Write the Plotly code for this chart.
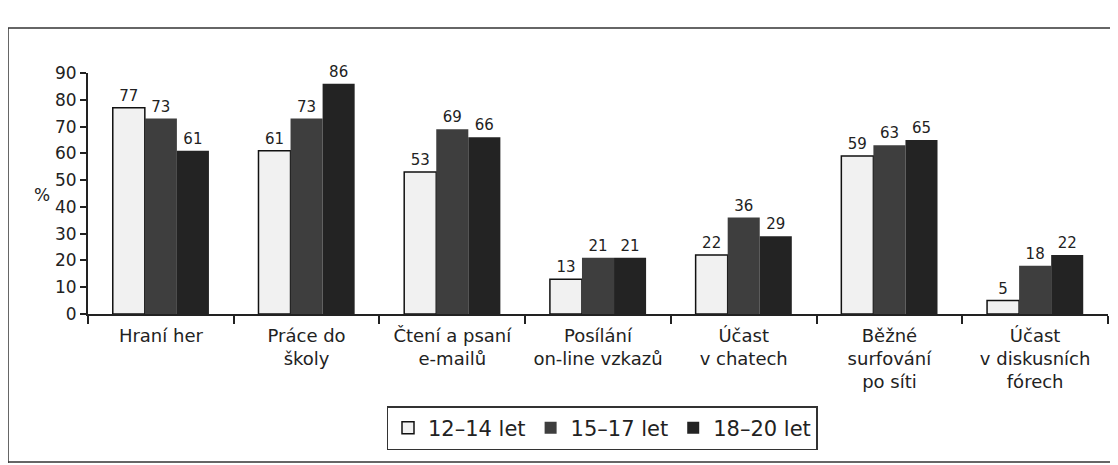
import plotly.graph_objects as go

categories = ["Hraní her", "Práce do<br>školy", "Čtení a psaní<br>e-mailů",
              "Posílání<br>on-line vzkazů", "Účast<br>v chatech",
              "Běžné<br>surfování<br>po síti", "Účast<br>v diskusních<br>fórech"]
series_names = ["12–14 let", "15–17 let", "18–20 let"]
age_12_14 = [77, 61, 53, 13, 22, 59, 5]
age_15_17 = [73, 73, 69, 21, 36, 63, 18]
age_18_20 = [61, 86, 66, 21, 29, 65, 22]
y_ticks = [0, 10, 20, 30, 40, 50, 60, 70, 80, 90]

FONT = "DejaVu Sans"
OFF = 8  # page body margin
W, H = 1118 - OFF, 465 - OFF
# target page-pixel positions of the plot area
PL, PR, PT, PB = 88, 1108, 73, 314
L = PL - OFF
T = PT - OFF
R = W - (PR - OFF)
B = H - (PB - OFF)
pw, ph = W - L - R, H - T - B

def px_x(x):  # page pixel -> paper
    return (x - PL) / pw

def px_y(y):
    return (PB - y) / ph

fig = go.Figure()
styles = [
    dict(color="#f1f1f1", line=dict(color="#111111", width=1.5)),
    dict(color="#3e3e3e", line=dict(color="#3e3e3e", width=0)),
    dict(color="#232323", line=dict(color="#232323", width=0)),
]
for name, vals, st in zip(series_names, [age_12_14, age_15_17, age_18_20], styles):
    fig.add_trace(go.Bar(
        x=categories, y=vals, name=name, marker=st,
        text=[str(v) for v in vals], textposition="outside",
        textfont=dict(family=FONT, size=15, color="#222222"),
        cliponaxis=False,
    ))

line_style = dict(color="#333333", width=1.5)
fig.update_layout(
    width=W, height=H,
    margin=dict(l=L, r=R, t=T, b=B, autoexpand=False),
    paper_bgcolor="white", plot_bgcolor="white",
    barmode="group", bargap=0.34, bargroupgap=0.0,
    font=dict(family=FONT, color="#222222"),
    showlegend=True,
    legend=dict(
        orientation="h", x=px_x(602), xanchor="center",
        y=px_y(406), yanchor="top",
        bordercolor="#333333", borderwidth=1.5, bgcolor="white",
        font=dict(family=FONT, size=21, color="#222222"),
        itemwidth=30, traceorder="normal",
    ),
    xaxis=dict(
        type="category", tickson="boundaries", ticks="outside", ticklen=8,
        tickwidth=2, tickcolor="#222222", tickangle=0, automargin=False,
        ticklabelstandoff=4,
        showline=True, linecolor="#222222", linewidth=2,
        tickfont=dict(family=FONT, size=18, color="#222222"),
        showgrid=False,
    ),
    yaxis=dict(
        range=[0, 90], tickvals=y_ticks, ticks="outside", ticklen=6,
        tickwidth=2, tickcolor="#222222", automargin=False,
        showline=True, linecolor="#222222", linewidth=2,
        tickfont=dict(family=FONT, size=17, color="#222222"),
        showgrid=False, zeroline=False,
    ),
    annotations=[dict(
        text="%", x=px_x(42), y=px_y(195), xref="paper", yref="paper",
        xanchor="center", yanchor="middle",
        showarrow=False, font=dict(family=FONT, size=17, color="#222222"),
    )],
    shapes=[
        dict(type="line", xref="paper", yref="paper",
             x0=px_x(8), x1=px_x(8), y0=px_y(463), y1=px_y(28), line=line_style),
        dict(type="line", xref="paper", yref="paper",
             x0=px_x(8), x1=px_x(1118), y0=px_y(28), y1=px_y(28), line=line_style),
        dict(type="line", xref="paper", yref="paper",
             x0=px_x(8), x1=px_x(1118), y0=px_y(462), y1=px_y(462), line=line_style),
    ],
)

fig.write_html("out.html")
